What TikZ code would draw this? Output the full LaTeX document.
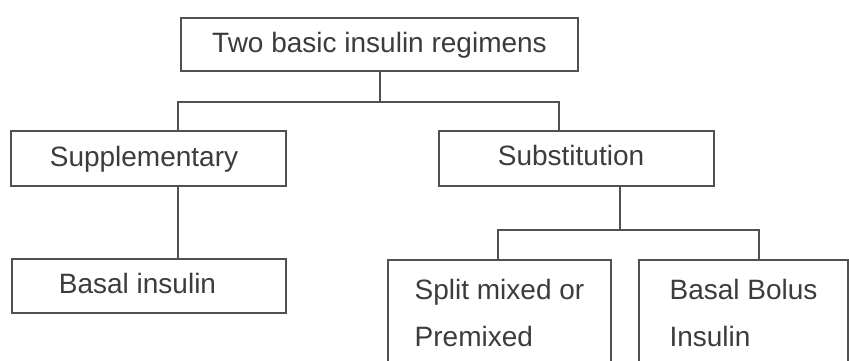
\documentclass[tikz,border=0pt]{standalone}
\usepackage{fontspec}
\setmainfont{Liberation Sans}
\definecolor{linegray}{HTML}{505050}
\definecolor{textgray}{HTML}{3C3C3C}
\begin{document}
\begin{tikzpicture}[x=1pt,y=-1pt,
  box/.style={draw=linegray, line width=2pt, fill=white, inner sep=0pt, text=textgray, font=\fontsize{28}{34}\selectfont},
  onebox/.style={box, text height=21pt, text depth=6pt},
  tallbox/.style={box, anchor=north, inner xsep=0pt, inner ysep=19pt, align=left, font=\fontsize{28}{47}\selectfont},
  link/.style={draw=linegray, line width=2pt}]
\useasboundingbox (0,0) rectangle (849,360);
\clip (0,0) rectangle (849,360);
\fill[white] (0,0) rectangle (849,360);
% boxes
\node[onebox, minimum width=397pt, minimum height=53pt] (top) at (379.5,44.5) {Two basic insulin regimens};
\node[onebox, minimum width=275pt, minimum height=55pt] (supp) at (148.5,158.5) {\hspace*{-9pt}Supplementary};
\node[onebox, minimum width=275pt, minimum height=55pt] (sub) at (576.5,158) {\hspace*{-11pt}Substitution};
\node[onebox, minimum width=274pt, minimum height=54pt] (basal) at (149,286) {\hspace*{-23pt}Basal insulin};
\node[tallbox, minimum width=223pt] (split) at (499.5,259) {Split mixed or\\Premixed};
\node[tallbox, minimum width=209pt] (bolus) at (743.5,259) {Basal Bolus\\Insulin};
% junction points
\coordinate (j1L) at (178,102);
\coordinate (j1R) at (559,102);
\coordinate (j2L) at (498,230);
\coordinate (j2C) at (620,230);
\coordinate (j2R) at (759,230);
% connectors
\draw[link] (top.south) -- (top.south |- j1L);
\draw[link] (supp.north -| j1L) -- (j1L) -- (j1R) -- (sub.north -| j1R);
\draw[link] (supp.south -| j1L) -- (basal.north -| j1L);
\draw[link] (sub.south -| j2C) -- (j2C);
\draw[link] (split.north -| j2L) -- (j2L) -- (j2R) -- (bolus.north -| j2R);
\end{tikzpicture}
\end{document}
